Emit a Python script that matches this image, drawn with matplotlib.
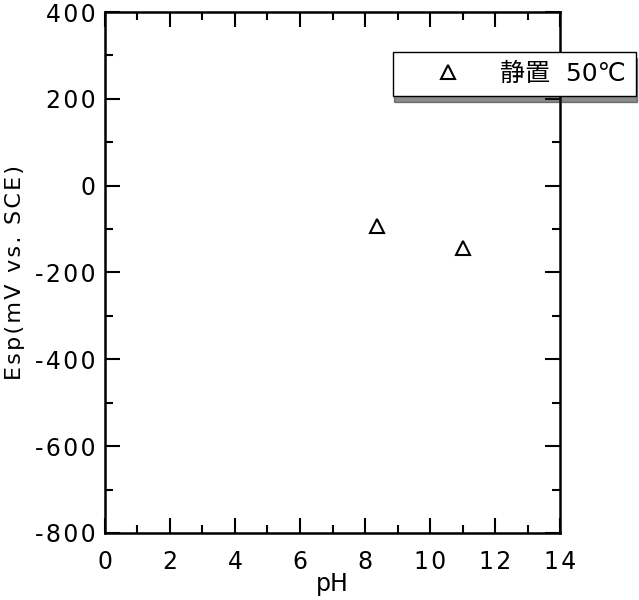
import matplotlib
matplotlib.use('Agg')
import matplotlib.pyplot as plt
from matplotlib.ticker import MultipleLocator, FuncFormatter

plt.rcParams['font.family'] = ['DejaVu Sans', 'Noto Sans CJK JP']

# données
ph = [8.36, 11.0]
esp = [-94, -143]
label = '静置  50℃'

def espace(s, sep='\u200a'):
    # écartement des lettres comme sur l'original
    return sep.join(s)

fig = plt.figure(figsize=(6.39, 6.0), dpi=100)
ax = fig.add_axes([0.1643, 0.1117, 0.7121, 0.8683])

ax.plot(ph, esp, linestyle='none', marker='^', markersize=10,
        markerfacecolor='white', markeredgecolor='black', markeredgewidth=1.5,
        label=label)

ax.set_xlim(0, 14)
ax.set_ylim(-800, 400)
ax.xaxis.set_major_locator(MultipleLocator(2))
ax.xaxis.set_minor_locator(MultipleLocator(1))
ax.yaxis.set_major_locator(MultipleLocator(200))
ax.yaxis.set_minor_locator(MultipleLocator(100))
fmt = FuncFormatter(lambda v, p: espace('%d' % v))
ax.xaxis.set_major_formatter(fmt)
ax.yaxis.set_major_formatter(fmt)
ax.tick_params(which='both', direction='in', top=True, right=True, width=1.5)
ax.tick_params(which='major', length=11, labelsize=17)
ax.tick_params(which='minor', length=6)
ax.tick_params(axis='x', which='major', pad=12)
ax.tick_params(axis='y', which='major', pad=7)
for s in ax.spines.values():
    s.set_linewidth(1.8)

ax.set_xlabel('pH', fontsize=17)
ax.set_ylabel(espace('Esp(mV vs. SCE)'), fontsize=16)
ax.xaxis.set_label_coords(0.5, -0.075)
ax.yaxis.set_label_coords(-0.175, 0.5)

# légende avec ombre, débordant à droite des axes
fig.legend(loc='upper right', bbox_to_anchor=(0.995, 0.913), frameon=True,
           fancybox=False, shadow={'color': '0.1', 'ox': 1, 'oy': -4},
           edgecolor='black', fontsize=18, handletextpad=0.3,
           borderpad=0.4, handlelength=3.6, borderaxespad=0)

fig.savefig('out.png', dpi=100)
